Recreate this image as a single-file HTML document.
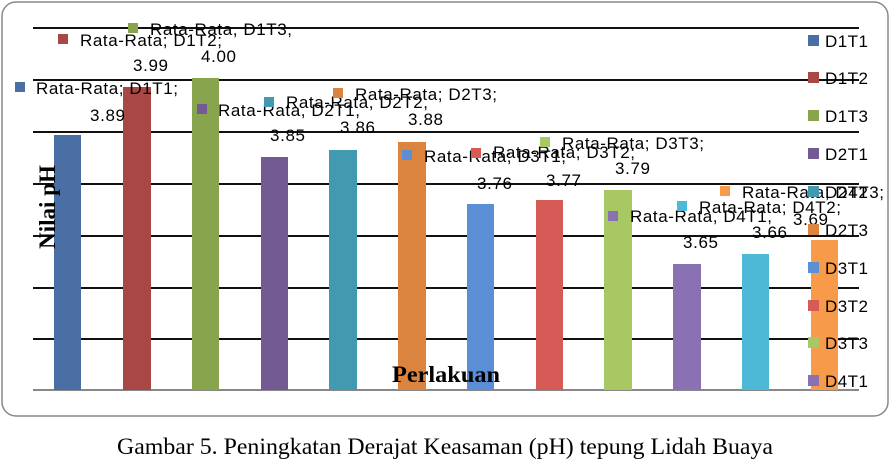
<!DOCTYPE html>
<html><head><meta charset="utf-8"><style>
body{margin:0;background:#fff;width:891px;height:460px;overflow:hidden;position:relative;font-family:"Liberation Sans",sans-serif}
</style></head><body>
<svg width="891" height="460" style="position:absolute;left:0;top:0">
<rect x="2" y="2" width="886" height="414" rx="14" fill="#fff" stroke="#888" stroke-width="1.5"/>
<g stroke="#111" stroke-width="2">
<line x1="33" y1="28" x2="859" y2="28"/><line x1="33" y1="80" x2="859" y2="80"/>
<line x1="33" y1="132" x2="859" y2="132"/><line x1="33" y1="184" x2="859" y2="184"/>
<line x1="33" y1="236" x2="859" y2="236"/><line x1="33" y1="288" x2="859" y2="288"/>
<line x1="33" y1="339" x2="859" y2="339"/>
</g>
<line x1="33" y1="390" x2="859" y2="390" stroke="#888" stroke-width="2"/>
<g>
<rect x="54" y="135" width="27" height="255" fill="#4a6fa5"/>
<rect x="123" y="87" width="28" height="303" fill="#a94744"/>
<rect x="192" y="78" width="27" height="312" fill="#88a44d"/>
<rect x="261" y="157" width="27" height="233" fill="#735a93"/>
<rect x="329" y="150" width="28" height="240" fill="#4299b0"/>
<rect x="398" y="142" width="28" height="248" fill="#db8440"/>
<rect x="467" y="204" width="27" height="186" fill="#5a8fd6"/>
<rect x="536" y="200" width="27" height="190" fill="#d65a56"/>
<rect x="604" y="190" width="28" height="200" fill="#a7c862"/>
<rect x="673" y="264" width="28" height="126" fill="#8a71b4"/>
<rect x="742" y="254" width="27" height="136" fill="#4eb9d6"/>
<rect x="811" y="240" width="27" height="150" fill="#f79a4a"/>
</g>
<g font-size="17" fill="#000" lengthAdjust="spacingAndGlyphs">
<rect x="15" y="82" width="10" height="10" fill="#4a6fa5"/><text x="36" y="94" textLength="142">Rata-Rata; D1T1;</text><text x="90" y="121" textLength="35">3.89</text>
<rect x="58" y="34" width="10" height="10" fill="#a94744"/><text x="80" y="46" textLength="142">Rata-Rata; D1T2;</text><text x="133" y="71" textLength="35">3.99</text>
<rect x="128" y="23" width="10" height="10" fill="#88a44d"/><text x="150" y="35" textLength="142">Rata-Rata, D1T3,</text><text x="201" y="62" textLength="35">4.00</text>
<rect x="197" y="104" width="10" height="10" fill="#735a93"/><text x="218" y="116" textLength="142">Rata-Rata, D2T1,</text><text x="270" y="141" textLength="35">3.85</text>
<rect x="264" y="97" width="10" height="10" fill="#4299b0"/><text x="286" y="108" textLength="142">Rata-Rata, D2T2,</text><text x="340" y="133" textLength="35">3.86</text>
<rect x="333" y="88" width="10" height="10" fill="#db8440"/><text x="355" y="100" textLength="142">Rata-Rata; D2T3;</text><text x="408" y="125" textLength="35">3.88</text>
<rect x="402" y="150" width="10" height="10" fill="#5a8fd6"/><text x="424" y="162" textLength="142">Rata-Rata; D3T1;</text><text x="477" y="189" textLength="35">3.76</text>
<rect x="471" y="148" width="10" height="10" fill="#d65a56"/><text x="493" y="158" textLength="142">Rata-Rata; D3T2;</text><text x="546" y="186" textLength="35">3.77</text>
<rect x="540" y="137" width="10" height="10" fill="#a7c862"/><text x="562" y="149" textLength="142">Rata-Rata; D3T3;</text><text x="615" y="174" textLength="35">3.79</text>
<rect x="608" y="211" width="10" height="10" fill="#8a71b4"/><text x="630" y="222" textLength="142">Rata-Rata, D4T1,</text><text x="683" y="248" textLength="35">3.65</text>
<rect x="677" y="201" width="10" height="10" fill="#4eb9d6"/><text x="699" y="213" textLength="142">Rata-Rata; D4T2;</text><text x="752" y="238" textLength="35">3.66</text>
<rect x="720" y="186" width="10" height="10" fill="#f79a4a"/><text x="742" y="198" textLength="142">Rata-Rata; D4T3;</text><text x="793" y="225" textLength="35">3.69</text>
</g>
<g font-size="17" fill="#000" lengthAdjust="spacingAndGlyphs">
<rect x="808" y="35" width="11" height="11" fill="#4a6fa5"/><text x="825" y="47" textLength="43">D1T1</text>
<rect x="808" y="72" width="11" height="11" fill="#a94744"/><text x="825" y="84" textLength="43">D1T2</text>
<rect x="808" y="110" width="11" height="11" fill="#88a44d"/><text x="825" y="122" textLength="43">D1T3</text>
<rect x="808" y="148" width="11" height="11" fill="#735a93"/><text x="825" y="160" textLength="43">D2T1</text>
<rect x="808" y="186" width="11" height="11" fill="#4299b0"/><text x="825" y="198" textLength="43">D2T2</text>
<rect x="808" y="224" width="11" height="11" fill="#db8440"/><text x="825" y="236" textLength="43">D2T3</text>
<rect x="808" y="262" width="11" height="11" fill="#5a8fd6"/><text x="825" y="274" textLength="43">D3T1</text>
<rect x="808" y="300" width="11" height="11" fill="#d65a56"/><text x="825" y="312" textLength="43">D3T2</text>
<rect x="808" y="337" width="11" height="11" fill="#a7c862"/><text x="825" y="349" textLength="43">D3T3</text>
<rect x="808" y="375" width="11" height="11" fill="#8a71b4"/><text x="825" y="387" textLength="43">D4T1</text>
</g>
<text x="392" y="382" font-family="Liberation Serif,serif" font-weight="bold" font-size="23" textLength="108" lengthAdjust="spacingAndGlyphs">Perlakuan</text>
<text transform="translate(55,207) rotate(-90)" font-family="Liberation Serif,serif" font-weight="bold" font-size="23" text-anchor="middle">Nilai pH</text>
<text x="117" y="454" font-family="Liberation Serif,serif" font-size="23" textLength="656" lengthAdjust="spacingAndGlyphs">Gambar 5. Peningkatan Derajat Keasaman (pH) tepung Lidah Buaya</text>
</svg>
</body></html>
